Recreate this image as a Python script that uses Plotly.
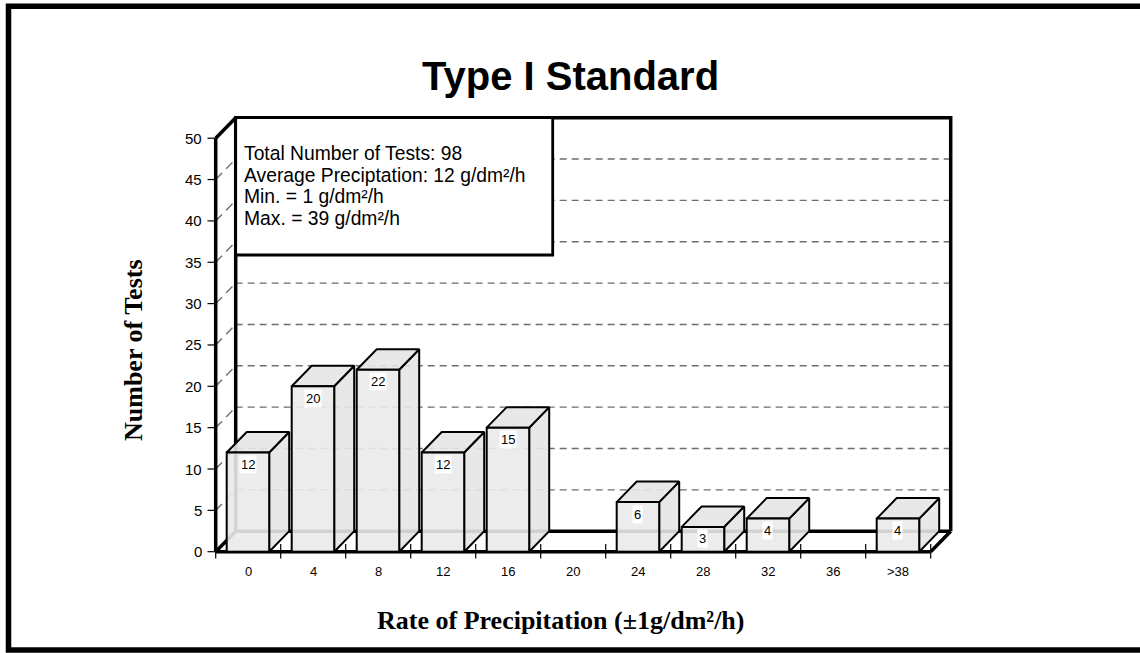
import plotly.graph_objects as go

# ---- data -------------------------------------------------------------
categories = ["0", "4", "8", "12", "16", "20", "24", "28", "32", "36", ">38"]
counts = [12, 20, 22, 12, 15, 0, 6, 3, 4, 0, 4]
y_ticks = [0, 5, 10, 15, 20, 25, 30, 35, 40, 45, 50]
info_lines = [
    "Total Number of Tests: 98",
    "Average Preciptation: 12 g/dm²/h",
    "Min. = 1 g/dm²/h",
    "Max. = 39 g/dm²/h",
]
title_text = "Type I Standard"
x_title = "Rate of Precipitation (±1g/dm²/h)"
y_title = "Number of Tests"

# ---- geometry of the pseudo-3D frame ----------------------------------
W, H = 1140, 653
ORIGIN_PX = (215.7, 551.7)      # front-left corner of the floor
CAT_PX = 65.0                   # width of one category
UNIT_PX = 8.27                  # pixels per count
DEPTH_PX = (20.0, 20.5)         # depth offset of the back wall
BAR_LEFT, BAR_RIGHT = 11.0 / 65, 53.5 / 65


def px_x(px):
    return (px - ORIGIN_PX[0]) / CAT_PX


def px_y(py):
    return (ORIGIN_PX[1] - py) / UNIT_PX


DX = DEPTH_PX[0] / CAT_PX
DY = DEPTH_PX[1] / UNIT_PX
n = len(categories)
y_max = y_ticks[-1]

SANS = "Liberation Sans, Arial, sans-serif"
SERIF = "Liberation Serif, Times New Roman, serif"
GRID = dict(color="#6e6e6e", width=1.4, dash="7px,5px")
THICK = 3.5

fig = go.Figure()


def path(xs, ys, line, fill=None, close=False):
    if close:
        xs = list(xs) + [xs[0]]
        ys = list(ys) + [ys[0]]
    fig.add_trace(go.Scatter(
        x=xs, y=ys, mode="lines", line=line,
        fill="toself" if fill else None, fillcolor=fill,
        hoverinfo="skip", showlegend=False))


# floor and back wall backgrounds
path([0, n, n + DX, DX], [0, 0, DY, DY], dict(width=0, color="white"), fill="white", close=True)
path([DX, n + DX, n + DX, DX], [DY, DY, y_max + DY, y_max + DY],
     dict(width=0, color="white"), fill="white", close=True)

# dashed gridlines on the back wall and the left wall
for v in y_ticks[1:-1]:
    path([DX, n + DX], [v + DY, v + DY], GRID)
    path([0, DX], [v, v + DY], dict(color="#6e6e6e", width=1.4, dash="9px,6px"))

# wall and floor outlines
edge = dict(color="black", width=THICK)
path([DX, DX, n + DX, n + DX], [DY, y_max + DY, y_max + DY, DY], edge)
path([0, 0], [0, y_max], edge)
path([0, DX], [y_max, y_max + DY], edge)
path([DX, n + DX], [DY, DY], edge)
path([0, DX], [0, DY], edge)
path([n, n + DX], [0, DY], edge)
path([0, n], [0, 0], edge)

# ticks on the front axes
for k in range(n + 1):
    path([k, k], [px_y(544), px_y(558.5)], dict(color="black", width=1.2))
for v in y_ticks:
    path([px_x(207.5), 0], [v, v], dict(color="black", width=1.2))

# bars drawn as front / top / side faces
face = "rgba(234,234,234,0.9)"
side = "rgba(230,230,230,0.9)"
outline = dict(color="black", width=2)
for i, h in enumerate(counts):
    if h <= 0:
        continue
    x0, x1 = i + BAR_LEFT, i + BAR_RIGHT
    path([x1, x1 + DX, x1 + DX, x1], [0, DY, h + DY, h], outline, fill=side, close=True)
    path([x0, x1, x1 + DX, x0 + DX], [h, h, h + DY, h + DY], outline, fill=side, close=True)
    path([x0, x1, x1, x0], [0, 0, h, h], outline, fill=face, close=True)

annotations = []

# value labels on the bar fronts
for i, h in enumerate(counts):
    if h <= 0:
        continue
    annotations.append(dict(
        x=i + (BAR_LEFT + BAR_RIGHT) / 2, y=h, xref="x", yref="y",
        text=str(h), showarrow=False, yshift=-12,
        xanchor="center", yanchor="middle",
        bgcolor="white", borderpad=1,
        font=dict(family=SANS, size=13, color="black")))

# category labels
for i, c in enumerate(categories):
    annotations.append(dict(
        x=i + 0.5, y=px_y(571.5), xref="x", yref="y", text=c,
        xanchor="center", yanchor="middle",
        showarrow=False, font=dict(family=SANS, size=13, color="black")))

# count axis labels
for v in y_ticks:
    annotations.append(dict(
        x=px_x(204), y=v, xref="x", yref="y", text=str(v),
        xanchor="right", yanchor="middle", showarrow=False,
        font=dict(family=SANS, size=15, color="black")))

# statistics box text
for j, line in enumerate(info_lines):
    annotations.append(dict(
        x=px_x(242), y=px_y(153.3 + 21.7 * j), xref="x", yref="y",
        text=line, xanchor="left", yanchor="middle", showarrow=False,
        font=dict(family=SANS, size=19.3, color="black")))

# titles
annotations.append(dict(
    x=570 / W, y=1 - 76 / H, xref="paper", yref="paper", text=title_text,
    xanchor="center", yanchor="middle",
    showarrow=False, font=dict(family=SANS, size=40, color="black", weight="bold")))
annotations.append(dict(
    x=560 / W, y=1 - 620 / H, xref="paper", yref="paper", text=x_title,
    xanchor="center", yanchor="middle",
    showarrow=False, font=dict(family=SERIF, size=26, color="black", weight="bold")))
annotations.append(dict(
    x=133 / W, y=1 - 350 / H, xref="paper", yref="paper", text=y_title,
    xanchor="center", yanchor="middle",
    textangle=-90, showarrow=False,
    font=dict(family=SERIF, size=26, color="black", weight="bold")))

shapes = [
    # statistics box
    dict(type="rect", xref="x", yref="y", layer="above",
         x0=DX, x1=px_x(552.7), y0=px_y(255), y1=y_max + DY,
         fillcolor="white", line=dict(color="black", width=2.8)),
    # outer frame
    dict(type="rect", xref="paper", yref="paper",
         x0=8.5 / W, x1=(W + 10) / W, y0=1 - 650 / H, y1=1 - 6.3 / H,
         line=dict(color="black", width=5.5)),
]

fig.update_layout(
    width=W, height=H, margin=dict(l=0, r=0, t=0, b=0),
    paper_bgcolor="white", plot_bgcolor="white", showlegend=False,
    xaxis=dict(visible=False, range=[px_x(0), px_x(W)], fixedrange=True),
    yaxis=dict(visible=False, range=[px_y(H), px_y(0)], fixedrange=True),
    annotations=annotations, shapes=shapes,
)

fig.write_html("out.html")
